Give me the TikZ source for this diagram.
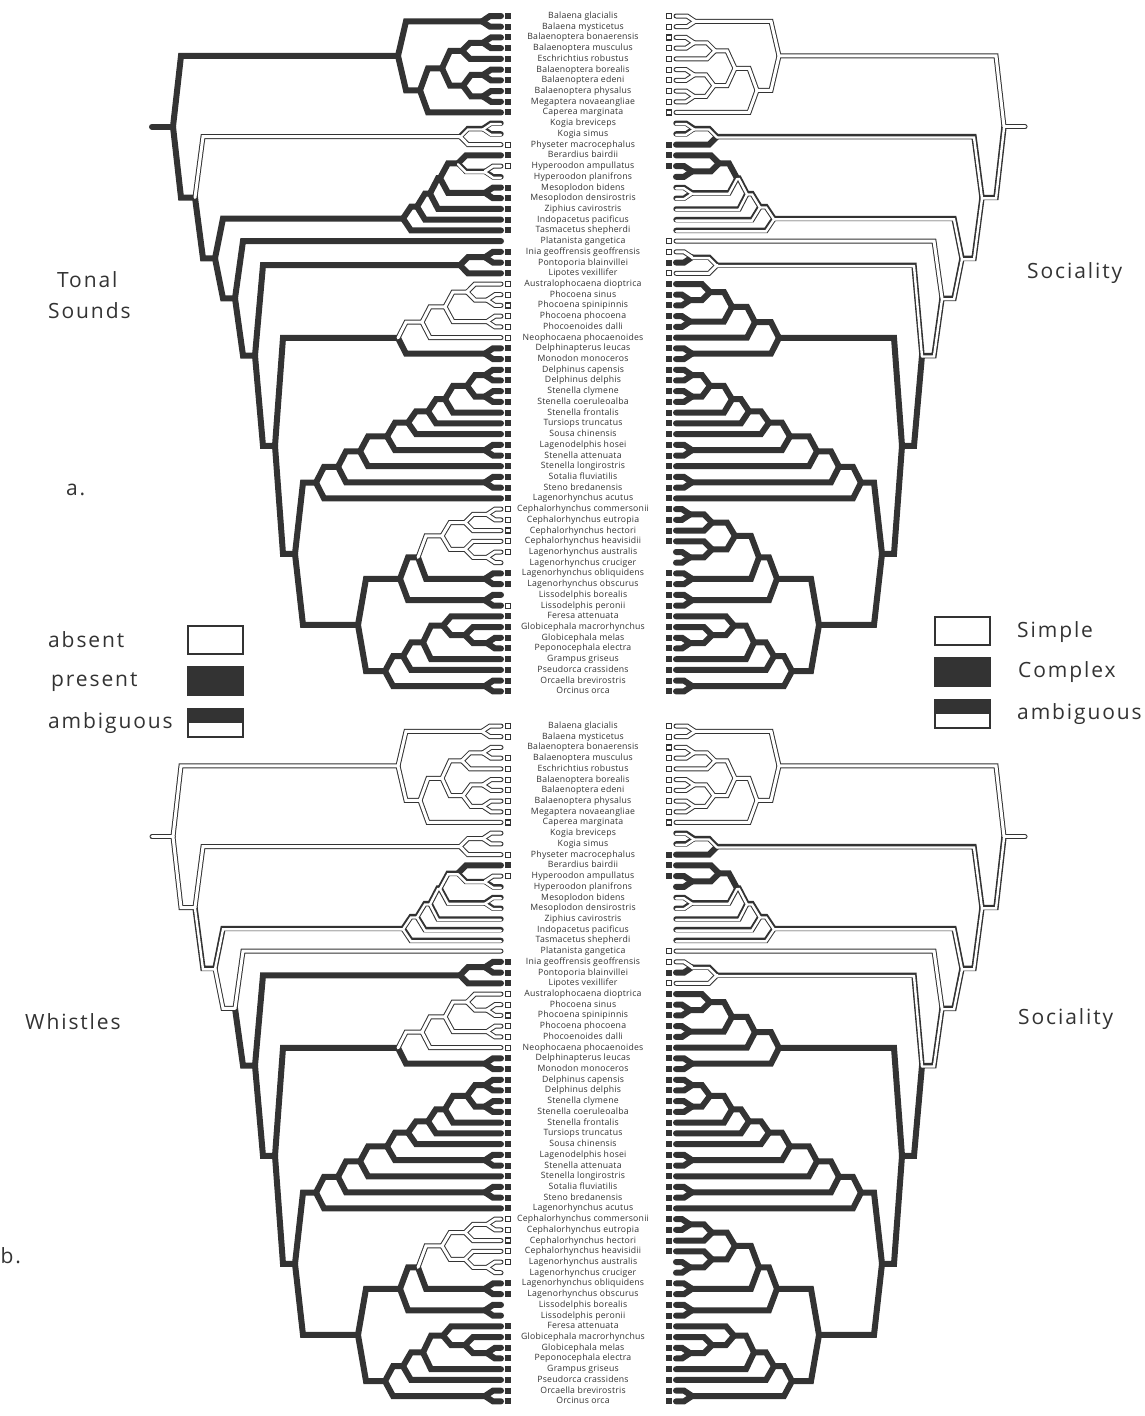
\documentclass[tikz,border=0pt]{standalone}
\usepackage{fontspec}
\setmainfont{Open Sans}
\newfontfamily\namefam{Open Sans}[LetterSpace=2.5]
\newfontfamily\bigfam{Open Sans}[LetterSpace=9]
\definecolor{dk}{HTML}{333333}
\tikzset{
 dkline/.style={draw=dk, line cap=round, line join=miter},
 wla/.style={draw=white, line width=3.0pt, line cap=round, line join=miter},
 wlb/.style={draw=white, line width=2.4pt, line cap=round, line join=miter},
 sqP/.style={fill=dk, draw=none, minimum size=6pt, inner sep=0pt},
 sqA/.style={fill=white, draw=dk, line width=1.2pt, minimum size=5pt, inner sep=0pt},
 namestyle/.style={font=\namefam\fontsize{8.7}{10}\selectfont, text=dk, inner sep=0pt, anchor=base},
 biglab/.style={font=\bigfam\fontsize{21}{24}\selectfont, text=dk, inner sep=0pt, anchor=base west},
 legbox/.style={draw=dk, line width=1.5pt, minimum width=55pt, minimum height=28pt, inner sep=0pt},
}
% ---------- tree geometry (left tree, panel a frame, y downward negative) ----------
\newcommand\setleaf[2]{%
  \pgfmathsetmacro\tmpv{-(16+(#2-1)*10.72)}%
  \expandafter\xdef\csname TX@#1\endcsname{501}%
  \expandafter\xdef\csname TY@#1\endcsname{\tmpv}}
\newcommand\setnode[4]{%
  \pgfmathsetmacro\tmpv{(\csname TY@#3\endcsname+\csname TY@#4\endcsname)/2}%
  \expandafter\xdef\csname TX@#1\endcsname{#2}%
  \expandafter\xdef\csname TY@#1\endcsname{\tmpv}}
\foreach \i in {1,...,64}{\setleaf{l\i}{\i}}
\setnode{m12}{482}{l1}{l2}
\setnode{m34}{483}{l3}{l4}
\setnode{m345}{462}{m34}{l5}
\setnode{m67}{483}{l6}{l7}
\setnode{m89}{483}{l8}{l9}
\setnode{m6789}{463}{m67}{m89}
\setnode{mB}{442}{m345}{m6789}
\setnode{mC}{420}{mB}{l10}
\setnode{M}{398}{m12}{mC}
\setnode{k12}{483}{l11}{l12}
\setnode{P}{460}{k12}{l13}
\setnode{za}{485}{l15}{l16}
\setnode{zb}{458}{l14}{za}
\setnode{zc}{485}{l17}{l18}
\setnode{zd}{440}{zb}{zc}
\setnode{ze}{430}{zd}{l19}
\setnode{zf}{417}{ze}{l20}
\setnode{Z}{403}{zf}{l21}
\setnode{i1}{485}{l23}{l24}
\setnode{I}{460}{i1}{l25}
\setnode{p23}{487}{l27}{l28}
\setnode{pa}{467}{l26}{p23}
\setnode{p45}{487}{l29}{l30}
\setnode{pb}{445}{pa}{p45}
\setnode{PH}{422}{pb}{l31}
\setnode{MO}{485}{l32}{l33}
\setnode{PM}{398}{PH}{MO}
\setnode{d1}{485}{l34}{l35}
\setnode{d2}{485}{l36}{l37}
\setnode{n1}{467}{d1}{d2}
\setnode{n2}{445}{n1}{l38}
\setnode{n3}{428}{n2}{l39}
\setnode{n4}{408}{n3}{l40}
\setnode{d3}{485}{l41}{l42}
\setnode{n5}{387}{n4}{d3}
\setnode{n6}{360}{n5}{l43}
\setnode{d4}{485}{l44}{l45}
\setnode{n7}{338}{n6}{d4}
\setnode{n8}{316}{n7}{l46}
\setnode{c12}{487}{l47}{l48}
\setnode{wa}{465}{c12}{l49}
\setnode{c56}{487}{l51}{l52}
\setnode{wb}{465}{l50}{c56}
\setnode{W}{442}{wa}{wb}
\setnode{c78}{485}{l53}{l54}
\setnode{n9}{418}{W}{c78}
\setnode{c90}{485}{l55}{l56}
\setnode{n10}{400}{n9}{c90}
\setnode{g90}{487}{l59}{l60}
\setnode{g1a}{465}{l58}{g90}
\setnode{g1}{443}{l57}{g1a}
\setnode{g2}{423}{g1}{l61}
\setnode{g3}{403}{g2}{l62}
\setnode{o34}{485}{l63}{l64}
\setnode{g4}{385}{g3}{o34}
\setnode{g5}{358}{n10}{g4}
\setnode{D}{295}{n8}{g5}
\setnode{O5}{275}{PM}{D}
\setnode{O4}{255}{I}{O5}
\setnode{O3}{235}{l22}{O4}
\setnode{O2}{215}{Z}{O3}
\setnode{O1}{195}{P}{O2}
\setnode{R}{173}{M}{O1}
\expandafter\xdef\csname TX@stub\endcsname{152}
\expandafter\xdef\csname TY@stub\endcsname{\csname TY@R\endcsname}
\def\allnames{stub,R,M,m12,mC,mB,m345,m34,m6789,m67,m89,O1,P,k12,O2,Z,zf,ze,zd,zb,za,zc,O3,O4,I,i1,O5,PM,PH,pb,pa,p23,p45,MO,D,n8,n7,n6,n5,n4,n3,n2,n1,d1,d2,d3,d4,g5,n10,n9,W,wa,wb,c12,c56,c78,c90,g4,g3,g2,g1,g1a,g90,o34}
% ---------- edge drawing ----------
\newcommand\edgedraw[2]{%
  \edef\px{\csname TX@#1\endcsname}\edef\py{\csname TY@#1\endcsname}%
  \edef\cx{\csname TX@#2\endcsname}\edef\cy{\csname TY@#2\endcsname}%
  \pgfmathsetmacro\bx{min(\px+8,\cx)}%
  \ifnum\pass=1
    \if p\st\def\lw{6.0}\fi\if a\st\def\lw{5.0}\fi\if b\st\def\lw{5.4}\fi
    \draw[dkline, line width=\lw pt] (\pfx-#1) -- (\bx,\cy) -- (\pfx-#2);
  \else
    \if a\st\draw[wla] (\px,\py) -- (\bx,\cy) -- (\cx,\cy);\fi
    \if b\st
      \pgfmathsetmacro\pyy{\py-0.9}\pgfmathsetmacro\cyy{\cy-0.9}%
      \draw[wlb] (\px,\pyy) -- (\bx,\cyy) -- (\cx,\cyy);\fi
  \fi}
\newcommand\E[5]{\edef\st{\ifcase\treeidx\or #3\or #4\or #5\fi}\edgedraw{#1}{#2}}
\newcommand\Ep[2]{\def\st{p}\edgedraw{#1}{#2}}
\newcommand\treeedges{%
\E{stub}{R}{p}{a}{a}%
\E{R}{M}{p}{a}{a}\E{M}{m12}{p}{a}{a}\E{m12}{l1}{p}{a}{a}\E{m12}{l2}{p}{a}{a}%
\E{M}{mC}{p}{a}{a}\E{mC}{mB}{p}{a}{a}\E{mC}{l10}{p}{a}{a}%
\E{mB}{m345}{p}{a}{a}\E{m345}{m34}{p}{a}{a}\E{m34}{l3}{p}{a}{a}\E{m34}{l4}{p}{a}{a}\E{m345}{l5}{p}{a}{a}%
\E{mB}{m6789}{p}{a}{a}\E{m6789}{m67}{p}{a}{a}\E{m67}{l6}{p}{a}{a}\E{m67}{l7}{p}{a}{a}%
\E{m6789}{m89}{p}{a}{a}\E{m89}{l8}{p}{a}{a}\E{m89}{l9}{p}{a}{a}%
\E{R}{O1}{p}{a}{b}\E{O1}{P}{a}{a}{b}\E{P}{k12}{b}{a}{b}\E{k12}{l11}{b}{a}{b}\E{k12}{l12}{b}{a}{b}\E{P}{l13}{a}{a}{p}%
\E{O1}{O2}{p}{b}{b}\E{O2}{Z}{p}{b}{b}\E{Z}{zf}{p}{b}{b}\E{Z}{l21}{p}{b}{b}\E{zf}{ze}{p}{b}{b}\E{zf}{l20}{p}{b}{b}%
\E{ze}{zd}{p}{b}{b}\E{ze}{l19}{p}{b}{b}\E{zd}{zb}{p}{b}{p}\E{zd}{zc}{p}{b}{b}\E{zc}{l17}{p}{b}{b}\E{zc}{l18}{p}{b}{b}%
\E{zb}{l14}{p}{p}{p}\E{zb}{za}{b}{b}{p}\E{za}{l15}{a}{a}{p}\E{za}{l16}{b}{b}{p}%
\E{O2}{O3}{p}{a}{b}\E{O3}{l22}{p}{a}{a}\E{O3}{O4}{p}{p}{b}\E{O4}{I}{p}{p}{b}\E{I}{i1}{p}{p}{b}%
\E{i1}{l23}{p}{p}{a}\Ep{i1}{l24}\E{I}{l25}{p}{p}{a}%
\Ep{O4}{O5}\Ep{O5}{PM}%
\E{PM}{PH}{a}{a}{p}\E{PH}{pb}{a}{a}{p}\E{PH}{l31}{a}{a}{p}\E{pb}{pa}{a}{a}{p}\E{pb}{p45}{a}{a}{p}%
\E{pa}{l26}{a}{a}{p}\E{pa}{p23}{a}{a}{p}\E{p23}{l27}{a}{a}{p}\E{p23}{l28}{a}{a}{p}\E{p45}{l29}{a}{a}{p}\E{p45}{l30}{a}{a}{p}%
\Ep{PM}{MO}\Ep{MO}{l32}\Ep{MO}{l33}%
\Ep{O5}{D}\Ep{D}{n8}\Ep{n8}{n7}\Ep{n8}{l46}\Ep{n7}{n6}\Ep{n7}{d4}\Ep{d4}{l44}\Ep{d4}{l45}%
\Ep{n6}{n5}\Ep{n6}{l43}\Ep{n5}{n4}\Ep{n5}{d3}\Ep{d3}{l41}\Ep{d3}{l42}\Ep{n4}{n3}\Ep{n4}{l40}%
\Ep{n3}{n2}\Ep{n3}{l39}\Ep{n2}{n1}\Ep{n2}{l38}\Ep{n1}{d1}\Ep{n1}{d2}\Ep{d1}{l34}\Ep{d1}{l35}\Ep{d2}{l36}\Ep{d2}{l37}%
\Ep{D}{g5}\Ep{g5}{n10}\Ep{g5}{g4}\Ep{n10}{n9}\Ep{n10}{c90}\Ep{c90}{l55}\Ep{c90}{l56}%
\E{n9}{W}{a}{a}{p}\Ep{n9}{c78}\Ep{c78}{l53}\Ep{c78}{l54}%
\E{W}{wa}{a}{a}{p}\E{W}{wb}{a}{a}{p}\E{wa}{c12}{a}{a}{p}\E{wa}{l49}{a}{a}{p}\E{c12}{l47}{a}{a}{p}\E{c12}{l48}{a}{a}{p}%
\E{wb}{l50}{a}{a}{p}\E{wb}{c56}{a}{a}{p}\E{c56}{l51}{a}{a}{p}\E{c56}{l52}{a}{a}{p}%
\Ep{g4}{g3}\Ep{g4}{o34}\Ep{o34}{l63}\Ep{o34}{l64}\Ep{g3}{g2}\Ep{g3}{l62}\Ep{g2}{g1}\Ep{g2}{l61}%
\Ep{g1}{l57}\Ep{g1}{g1a}\Ep{g1a}{l58}\Ep{g1a}{g90}\Ep{g90}{l59}\Ep{g90}{l60}%
}
\newcommand\Q[4]{\edef\sq{\ifcase\treeidx\or #2\or #3\or #4\fi}%
  \if P\sq\node[sqP] (\pfx-sq#1) at (508,\csname TY@l#1\endcsname) {};\fi
  \if A\sq\node[sqA] (\pfx-sq#1) at (508,\csname TY@l#1\endcsname) {};\fi}
\newcommand\sqlist{%
\Q{1}{P}{A}{A}\Q{2}{P}{A}{A}\Q{3}{P}{N}{A}\Q{4}{P}{A}{A}\Q{5}{P}{A}{A}\Q{6}{P}{A}{A}\Q{7}{P}{A}{A}\Q{8}{P}{A}{A}\Q{9}{P}{A}{A}\Q{10}{P}{A}{A}%
\Q{13}{A}{A}{P}\Q{14}{P}{P}{P}\Q{15}{A}{A}{P}\Q{17}{P}{N}{N}\Q{18}{P}{N}{N}\Q{19}{P}{N}{N}\Q{20}{P}{N}{N}\Q{21}{P}{N}{N}%
\Q{22}{N}{N}{A}\Q{23}{P}{P}{A}\Q{24}{P}{P}{P}\Q{25}{P}{P}{A}%
\foreach \k in {26,...,31}{\Q{\k}{A}{A}{P}}%
\foreach \k in {32,...,46}{\Q{\k}{P}{P}{P}}%
\foreach \k in {47,...,50}{\Q{\k}{A}{A}{P}}%
\Q{51}{A}{A}{N}\Q{53}{P}{P}{P}\Q{54}{P}{P}{P}\Q{55}{N}{N}{P}\Q{56}{A}{N}{P}%
\foreach \k in {57,...,64}{\Q{\k}{P}{P}{P}}}
\newcommand\drawtree[3]{%
  \begin{scope}[#3]
  \def\pfx{#1}\def\treeidx{#2}%
  \foreach \n in \allnames {\coordinate (#1-\n) at (\csname TX@\n\endcsname,\csname TY@\n\endcsname);}
  \foreach \i in {1,...,64} {\coordinate (#1-l\i) at (501,\csname TY@l\i\endcsname);}
  \def\pass{1}\treeedges
  \def\pass{2}\treeedges
  \sqlist
  \end{scope}}
\begin{document}
\begin{tikzpicture}[x=1pt,y=1pt]
\useasboundingbox (0,0) rectangle (1144,-1416);
\fill[white] (0,0) rectangle (1144,-1416);
\drawtree{ta}{1}{}
\drawtree{tar}{3}{xshift=1177pt,xscale=-1}
\drawtree{tb}{2}{yshift=-710pt}
\drawtree{tbr}{3}{yshift=-710pt,xshift=1177pt,xscale=-1}
% species names
\foreach \i/\nm in {1/Balaena glacialis,2/Balaena mysticetus,3/Balaenoptera bonaerensis,4/Balaenoptera musculus,5/Eschrichtius robustus,6/Balaenoptera borealis,7/Balaenoptera edeni,8/Balaenoptera physalus,9/Megaptera novaeangliae,10/Caperea marginata,11/Kogia breviceps,12/Kogia simus,13/Physeter macrocephalus,14/Berardius bairdii,15/Hyperoodon ampullatus,16/Hyperoodon planifrons,17/Mesoplodon bidens,18/Mesoplodon densirostris,19/Ziphius cavirostris,20/Indopacetus pacificus,21/Tasmacetus shepherdi,22/Platanista gangetica,23/Inia geoffrensis geoffrensis,24/Pontoporia blainvillei,25/Lipotes vexillifer,26/Australophocaena dioptrica,27/Phocoena sinus,28/Phocoena spinipinnis,29/Phocoena phocoena,30/Phocoenoides dalli,31/Neophocaena phocaenoides,32/Delphinapterus leucas,33/Monodon monoceros,34/Delphinus capensis,35/Delphinus delphis,36/Stenella clymene,37/Stenella coeruleoalba,38/Stenella frontalis,39/Tursiops truncatus,40/Sousa chinensis,41/Lagenodelphis hosei,42/Stenella attenuata,43/Stenella longirostris,44/Sotalia fluviatilis,45/Steno bredanensis,46/Lagenorhynchus acutus,47/Cephalorhynchus commersonii,48/Cephalorhynchus eutropia,49/Cephalorhynchus hectori,50/Cephalorhynchus heavisidii,51/Lagenorhynchus australis,52/Lagenorhynchus cruciger,53/Lagenorhynchus obliquidens,54/Lagenorhynchus obscurus,55/Lissodelphis borealis,56/Lissodelphis peronii,57/Feresa attenuata,58/Globicephala macrorhynchus,59/Globicephala melas,60/Peponocephala electra,61/Grampus griseus,62/Pseudorca crassidens,63/Orcaella brevirostris,64/Orcinus orca}{
  \node[namestyle] (na-\i) at (583,{-(16+(\i-1)*10.72)-2.5}) {\nm};
  \node[namestyle] (nb-\i) at (583,{-(726+(\i-1)*10.72)-2.5}) {\nm};
}
% legends
\node[legbox, fill=white] (lg-absent) at (215.5,-640) {};
\node[legbox, fill=dk] (lg-present) at (215.5,-681) {};
\node[legbox, fill=white] (lg-amb) at (215.5,-723) {};
\fill[dk] (lg-amb.north west) rectangle (lg-amb.east);
\node[biglab] (t-absent) at (48,-647) {absent};
\node[biglab] (t-present) at (51,-686) {present};
\node[biglab] (t-amb) at (48,-728) {ambiguous};
\node[legbox, fill=white] (rg-simple) at (962.5,-631) {};
\node[legbox, fill=dk] (rg-complex) at (962.5,-672) {};
\node[legbox, fill=white] (rg-amb) at (962.5,-714) {};
\fill[dk] (rg-amb.north west) rectangle (rg-amb.east);
\node[biglab] (t-simple) at (1017,-637) {Simple};
\node[biglab] (t-complex) at (1018,-677) {Complex};
\node[biglab] (t-amb2) at (1017,-719) {ambiguous};
% titles
\node[biglab] (t-tonal) at (57,-287) {Tonal};
\node[biglab] (t-sounds) at (48,-318) {Sounds};
\node[biglab] (t-soc1) at (1027,-278) {Sociality};
\node[biglab] (t-whistles) at (25,-1029) {Whistles};
\node[biglab] (t-soc2) at (1018,-1024) {Sociality};
\node[biglab] (t-a) at (66,-495) {a.};
\node[biglab] (t-b) at (0.5,-1263) {b.};
\end{tikzpicture}
\end{document}
